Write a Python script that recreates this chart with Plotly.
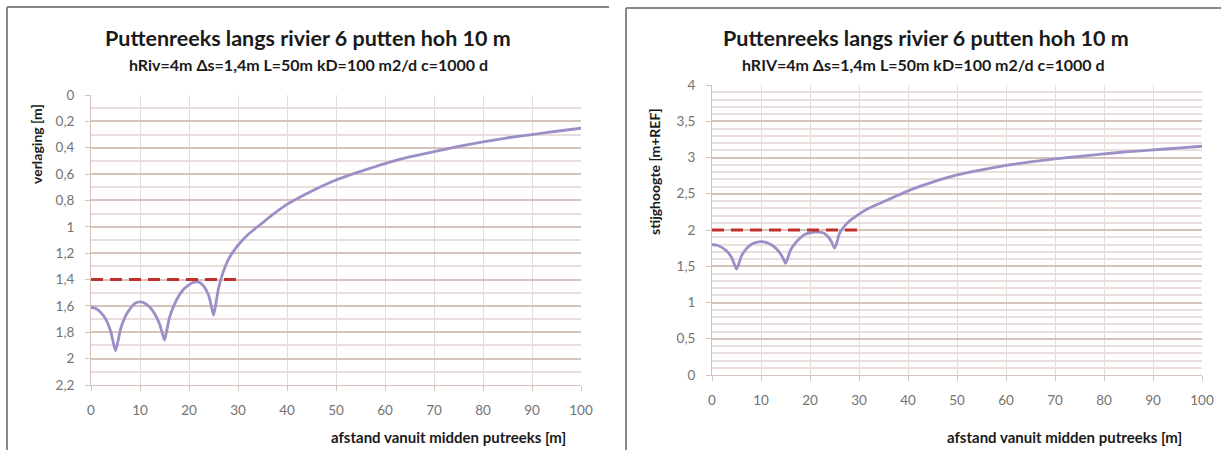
import plotly.graph_objects as go

# ---- data ----
afstand = [0, 1, 2, 3, 4, 4.5, 5, 5.5, 6, 7, 8, 9, 10, 11, 12, 13, 14, 14.5, 15, 15.5, 16,
           17, 18, 19, 20, 21, 22, 23, 24, 24.5, 25, 25.5, 26, 27, 28, 29, 30, 32, 35, 37, 40,
           45, 50, 55, 60, 65, 70, 75, 80, 85, 90, 95, 100]

verlaging = [1.61, 1.62, 1.65, 1.70, 1.79, 1.87, 1.94, 1.87, 1.78, 1.68, 1.62, 1.58, 1.57,
             1.58, 1.61, 1.66, 1.74, 1.80, 1.86, 1.78, 1.69, 1.59, 1.52, 1.47, 1.44, 1.42,
             1.42, 1.45, 1.52, 1.59, 1.67, 1.58, 1.47, 1.34, 1.25, 1.19, 1.14, 1.06, 0.97, 0.91,
             0.83, 0.73, 0.645, 0.58, 0.52, 0.47, 0.43, 0.39, 0.355, 0.325, 0.30, 0.275, 0.252]

stijghoogte = [1.80, 1.79, 1.76, 1.71, 1.62, 1.54, 1.46, 1.54, 1.64, 1.74, 1.80, 1.83, 1.84,
               1.83, 1.80, 1.75, 1.67, 1.61, 1.54, 1.62, 1.72, 1.82, 1.89, 1.94, 1.96, 1.97,
               1.97, 1.95, 1.88, 1.82, 1.75, 1.83, 1.95, 2.05, 2.12, 2.17, 2.22, 2.30, 2.39, 2.45,
               2.54, 2.66, 2.76, 2.83, 2.89, 2.94, 2.98, 3.015, 3.05, 3.08, 3.105, 3.13, 3.155]

grens_x = [0, 30]
grens_verlaging = [1.4, 1.4]
grens_stijghoogte = [2.0, 2.0]

titel = "Puttenreeks langs rivier 6 putten hoh 10 m"
sub_links = "hRiv=4m \u0394s=1,4m L=50m kD=100 m2/d c=1000 d"
sub_rechts = "hRIV=4m \u0394s=1,4m L=50m kD=100 m2/d c=1000 d"
x_titel = "afstand vanuit midden putreeks [m]"
y_titel_links = "verlaging [m]"
y_titel_rechts = "stijghoogte [m+REF]"

x_ticks = list(range(0, 101, 10))
y_ticks_links = [0, 0.2, 0.4, 0.6, 0.8, 1, 1.2, 1.4, 1.6, 1.8, 2, 2.2]
y_ticks_rechts = [0, 0.5, 1, 1.5, 2, 2.5, 3, 3.5, 4]

W, H = 1221, 450
FONT = "Lato"
LINE_COL = "#9d8fc6"
RED = "#c0302a"
TICK_COL = "#737373"
MAJ = "#d6c3bc"
MIN = "#e8dfdc"

fig = go.Figure()

fig.add_trace(go.Scatter(x=afstand, y=verlaging, mode="lines", xaxis="x", yaxis="y",
                         line=dict(color=LINE_COL, width=2.8, shape="spline", smoothing=0.6),
                         showlegend=False))
fig.add_trace(go.Scatter(x=grens_x, y=grens_verlaging, mode="lines", xaxis="x", yaxis="y",
                         line=dict(color=RED, width=3, dash="12px,7px"), showlegend=False))
fig.add_trace(go.Scatter(x=afstand, y=stijghoogte, mode="lines", xaxis="x2", yaxis="y2",
                         line=dict(color=LINE_COL, width=2.8, shape="spline", smoothing=0.6),
                         showlegend=False))
fig.add_trace(go.Scatter(x=grens_x, y=grens_stijghoogte, mode="lines", xaxis="x2", yaxis="y2",
                         line=dict(color=RED, width=3, dash="12px,7px"), showlegend=False))

def px(v):
    return v / W

def py(v):
    return 1 - v / H

xcommon = dict(range=[0, 100], tickvals=x_ticks, ticks="outside", ticklen=5, tickcolor=MAJ,
               showgrid=True, gridcolor="#e6dcdc", gridwidth=1, zeroline=False,
               showline=True, linecolor=MAJ, linewidth=1, automargin=False,
               tickfont=dict(family=FONT, size=13.5, color=TICK_COL), ticklabelstandoff=8,
               fixedrange=True)

ycommon = dict(ticks="outside", ticklen=5, tickcolor=MAJ,
               showgrid=True, gridcolor=MAJ, gridwidth=1.5, zeroline=False,
               minor=dict(dtick=0.1, showgrid=True, gridcolor=MIN, gridwidth=1.5),
               showline=True, linecolor=MAJ, linewidth=1, automargin=False,
               tickfont=dict(family=FONT, size=13.5, color=TICK_COL), ticklabelstandoff=8,
               fixedrange=True)

fig.update_layout(
    template="none",
    width=W, height=H, autosize=False,
    margin=dict(l=0, r=0, t=0, b=0, pad=0),
    paper_bgcolor="white", plot_bgcolor="white",
    separators=",.",
    xaxis=dict(domain=[px(91), px(581)], anchor="y", **xcommon),
    yaxis=dict(domain=[py(385), py(95)], anchor="x", range=[2.2, 0],
               tickvals=y_ticks_links, **ycommon),
    xaxis2=dict(domain=[px(712), px(1202)], anchor="y2", **xcommon),
    yaxis2=dict(domain=[py(375), py(85)], anchor="x2", range=[0, 4],
                tickvals=y_ticks_rechts, **ycommon),
)

anns = [
    (308, 38, titel, 21.5, 0),
    (926, 38, titel, 21.5, 0),
    (308, 64, sub_links, 16, 0),
    (923, 64, sub_rechts, 16, 0),
    (448, 437, x_titel, 15, 0),
    (1064, 437, x_titel, 15, 0),
    (36, 144, y_titel_links, 14, -90),
    (654, 172, y_titel_rechts, 14, -90),
]
for xx, yy, txt, size, ang in anns:
    fig.add_annotation(x=px(xx), y=py(yy), xref="paper", yref="paper", text=f"<b>{txt}</b>",
                       showarrow=False, xanchor="center", yanchor="middle", textangle=ang,
                       font=dict(family=FONT, size=size, color="#1a1a1a"))

# panel frames (top and left edges visible)
BORDER = "#8d8884"
for x0, y0, x1, y1 in [(7, 7, 609, 7), (7, 7, 7, 450), (626, 8, 1221, 8), (626, 8, 626, 450)]:
    fig.add_shape(type="line", xref="paper", yref="paper", x0=px(x0), y0=py(y0), x1=px(x1), y1=py(y1),
                  line=dict(color=BORDER, width=2))

fig.write_html("out.html", config={"displayModeBar": False},
               post_script="document.body.style.margin='0';document.body.style.overflow='hidden';")
